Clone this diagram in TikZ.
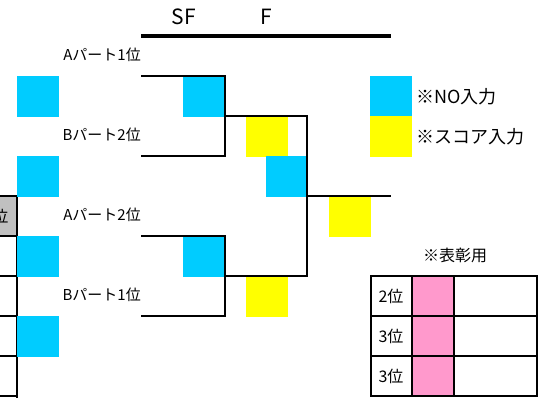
\documentclass[tikz,border=0pt]{standalone}
\usepackage{fontspec}
\setmainfont{Noto Sans CJK JP}
\definecolor{cyanbox}{HTML}{00CCFF}
\definecolor{yelbox}{HTML}{FFFF00}
\definecolor{pinkbox}{HTML}{FF99CC}
\definecolor{graycell}{HTML}{C0C0C0}
\tikzset{
  cbox/.style={fill=cyanbox},
  ybox/.style={fill=yelbox},
  bline/.style={line width=2pt},
  lbl/.style={font=\fontsize{15}{17}\selectfont, anchor=east, inner sep=0pt},
  leg/.style={font=\fontsize{18}{20}\selectfont, anchor=west, inner sep=0pt},
  cell/.style={font=\fontsize{16}{18}\selectfont, inner sep=0pt},
}
\begin{document}
\begin{tikzpicture}[x=1pt,y=-1pt]
\useasboundingbox (0,0) rectangle (541,398);
\clip (0,0) rectangle (541,398);
% header
\node[font=\fontsize{21}{24}\selectfont, inner sep=0pt] (sf) at (184,17) {SF};
\node[font=\fontsize{21}{24}\selectfont, inner sep=0pt] (f) at (266,17) {F};
\draw[line width=3.5pt] (141,36) -- (391,36);
% left table
\fill[graycell] (0,196) rectangle (17,236);
\node[cell, anchor=east] (rank) at (8.5,216) {位};
\draw[bline] (0,196) -- (17,196) -- (17,398);
\foreach \yy in {236,276,316,356,396} \draw[bline] (0,\yy) -- (17,\yy);
% left boxes
\fill[cbox] (17,76) rectangle (59,117);
\fill[cbox] (17,156) rectangle (59,197);
\fill[cbox] (17,236) rectangle (59,277);
\fill[cbox] (17,316) rectangle (59,357);
% labels
\node[lbl] (a1) at (141,55) {Aパート1位};
\node[lbl] (b2) at (141,135) {Bパート2位};
\node[lbl] (a2) at (141,215) {Aパート2位};
\node[lbl] (b1) at (141,295) {Bパート1位};
% SF boxes
\fill[cbox] (183,76) rectangle (225,117);
\fill[cbox] (183,236) rectangle (225,277);
% F boxes
\fill[ybox] (246,117) rectangle (288,157);
\fill[cbox] (266,156) rectangle (307,197);
\fill[ybox] (246,277) rectangle (288,317);
\fill[ybox] (329,197) rectangle (371,237);
% brackets
\draw[bline] (141,76) -- (225,76) -- (225,156) -- (141,156);
\draw[bline] (141,236) -- (225,236) -- (225,316) -- (141,316);
\draw[bline] (225,116) -- (307,116) -- (307,276) -- (225,276);
\draw[bline] (307,196) -- (391,196);
% legend
\fill[cbox] (370,76) rectangle (412,116);
\fill[ybox] (370,116) rectangle (412,157);
\node[leg] (l1) at (416,97) {※NO入力};
\node[leg] (l2) at (416,137) {※スコア入力};
% award table
\node[cell] (award) at (455,255) {※表彰用};
\fill[pinkbox] (412,276) rectangle (454,396);
\draw[bline] (371,276) rectangle (537,396);
\draw[bline] (371,316) -- (537,316);
\draw[bline] (371,356) -- (537,356);
\draw[bline] (412,276) -- (412,396);
\draw[bline] (454,276) -- (454,396);
\node[cell] (r2) at (391,296) {2位};
\node[cell] (r3a) at (391,336) {3位};
\node[cell] (r3b) at (391,376) {3位};
\end{tikzpicture}
\end{document}
